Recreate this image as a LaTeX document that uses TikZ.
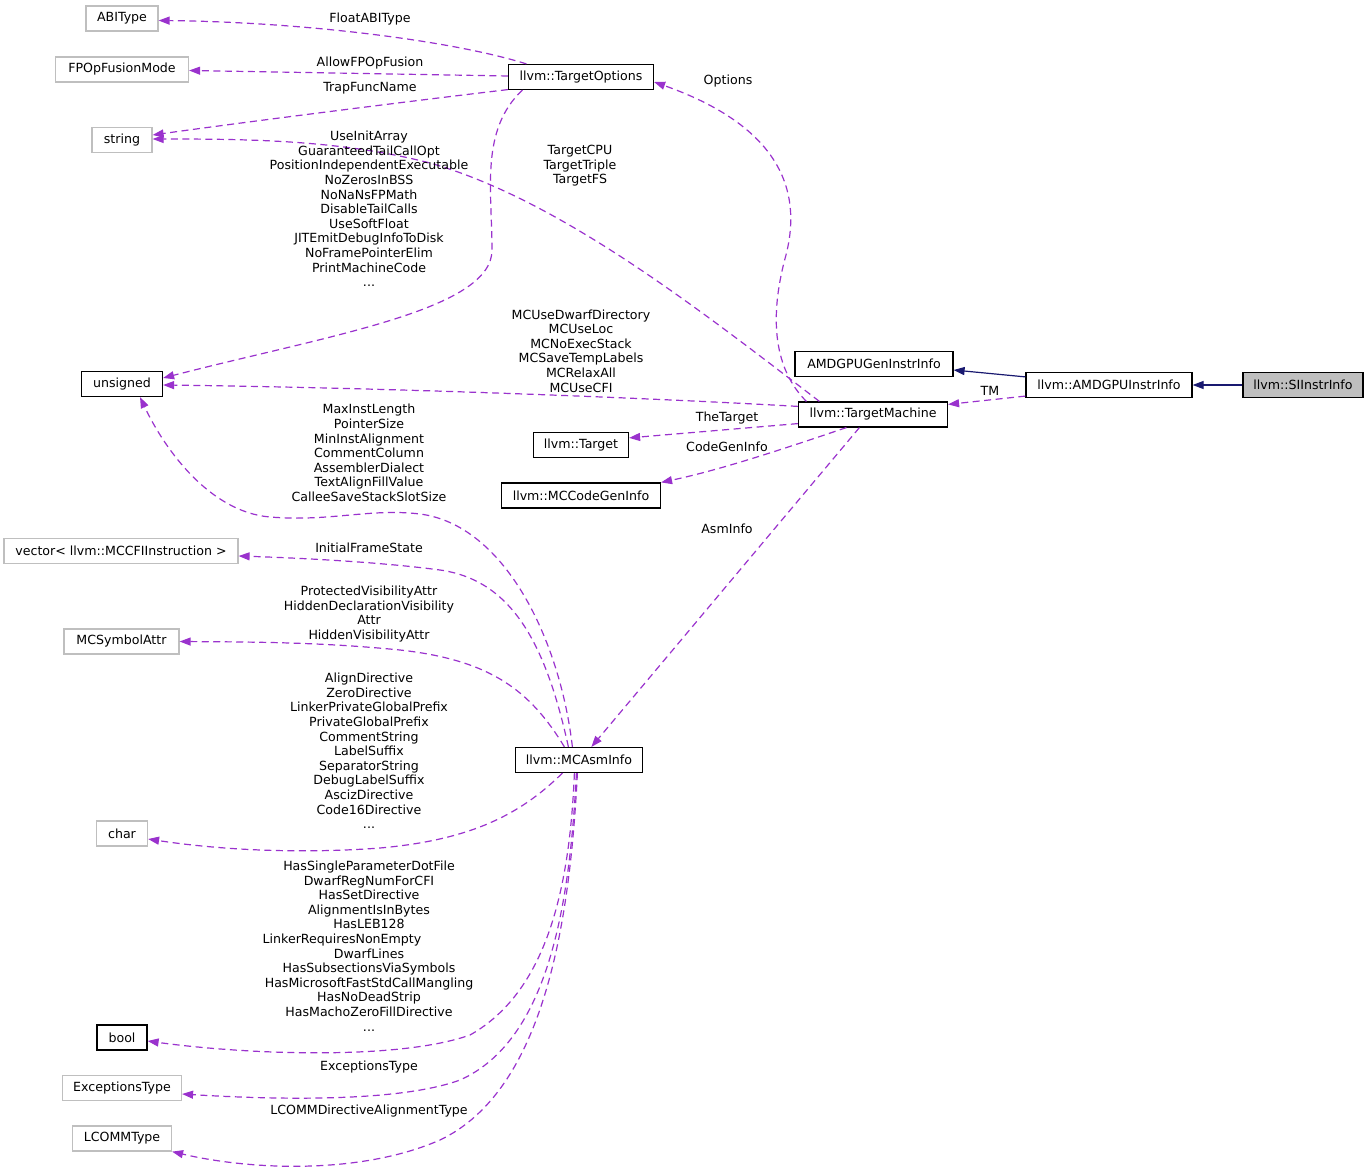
\documentclass[tikz,border=0pt]{standalone}
\usepackage{fontspec}
\setmainfont{DejaVu Sans}
\usetikzlibrary{arrows.meta}
\definecolor{lienvar}{HTML}{9A32CD}
\definecolor{lienher}{HTML}{191970}
\definecolor{grisbord}{HTML}{BFBFBF}
\tikzset{ %Styles du graphe de collaboration
    txt/.style={font=\fontsize{12.6}{14.6}\selectfont, inner sep=0pt, align=center},
    classe/.style={txt, draw=black, line width=1.2pt, minimum height=25pt, minimum width=#1},
    classe/.default=60pt,
    externe/.style={classe=#1, draw=grisbord},
    var/.style={lienvar, line width=1.2pt, dash pattern=on 7pt off 4.5pt, -{Triangle[length=11pt,width=8pt]}},
    her/.style={lienher, line width=1.2pt, -{Triangle[length=11pt,width=8pt]}}
}
\begin{document}
\begin{tikzpicture}[x=1pt,y=-1pt]
            \useasboundingbox (0,0) rectangle (1365,1174);
            % colonne de gauche
            \node[externe=72pt] (abi) at (122,18.5) {ABIType};
            \node[externe=133pt] (fpo) at (122,69.5) {FPOpFusionMode};
            \node[externe=60pt] (str) at (122,140) {string};
            \node[classe=81pt] (uns) at (122,384) {unsigned};
            \node[externe=234pt] (vec) at (121,551) {vector< llvm::MCCFIInstruction >};
            \node[externe=115pt] (sym) at (121.5,641.5) {MCSymbolAttr};
            \node[externe=51pt] (chr) at (122,833.5) {char};
            \node[classe=50pt] (boo) at (122,1037.5) {bool};
            \node[externe=119pt] (exc) at (122,1088) {ExceptionsType};
            \node[externe=99pt] (lco) at (122,1138.5) {LCOMMType};
            % milieu
            \node[classe=145pt] (topt) at (581,77) {llvm::TargetOptions};
            \node[classe=95pt] (tgt) at (581,445) {llvm::Target};
            \node[classe=159pt] (mcg) at (581,495.5) {llvm::MCCodeGenInfo};
            \node[classe=127pt] (mca) at (579,760) {llvm::MCAsmInfo};
            \node[classe=149pt] (tm) at (873,414.5) {llvm::TargetMachine};
            \node[classe=158pt] (gen) at (874,364) {AMDGPUGenInstrInfo};
            \node[classe=166pt] (amd) at (1109,385) {llvm::AMDGPUInstrInfo};
            \node[classe=120pt,fill=grisbord] (si) at (1303,385) {llvm::SIInstrInfo};
            % heritage
            \draw[her] (si.west) -- (amd.east);
            \draw[her] ([yshift=-5pt]amd.north west) -- ([yshift=-6pt]gen.east);
            % membres
            \draw[var] ([yshift=2pt]amd.south west) -- ([yshift=-3pt]tm.north east);
            \node[txt] (lTM) at (990,391) {TM};
            \draw[var] ([xshift=8.5pt]tm.north west) .. controls (775,370) and (768,320) .. (786,255) .. controls (800,200) and (790,130) .. ([yshift=-5pt]topt.east);
            \node[txt] (lOpt) at (728,81) {Options};
            \draw[var] ([xshift=21.5pt]tm.north west) .. controls (700,310) and (560,200) .. (430,163) .. controls (340,140) and (250,139) .. ([yshift=1pt]str.east);
            \node[txt] (lCPU) at (580,166) {TargetCPU\\TargetTriple\\TargetFS};
            \draw[var] ([yshift=-5pt]tm.north west) .. controls (650,398) and (400,388) .. ([yshift=-1pt]uns.east);
            \node[txt] (lMC) at (581,351) {MCUseDwarfDirectory\\MCUseLoc\\MCNoExecStack\\MCSaveTempLabels\\MCRelaxAll\\MCUseCFI};
            \draw[var] ([yshift=4pt]tm.south west) -- ([yshift=-6pt]tgt.north east);
            \node[txt] (lTgt) at (727,418) {TheTarget};
            \draw[var] ([xshift=48.5pt]tm.south west) .. controls (780,450) and (720,470) .. (mcg.north east);
            \node[txt] (lCG) at (727,447) {CodeGenInfo};
            \draw[var] ([xshift=61.5pt]tm.south west) -- ([xshift=76.5pt]mca.north west);
            \node[txt] (lAsm) at (727,529) {AsmInfo};
            \draw[var] ([xshift=18.5pt]topt.north west) .. controls (450,40) and (300,22) .. ([yshift=-2pt]abi.east);
            \node[txt] (lFl) at (370,19) {FloatABIType};
            \draw[var] ([yshift=1pt]topt.west) -- ([yshift=-1pt]fpo.east);
            \node[txt] (lFP) at (370,63) {AllowFPOpFusion};
            \draw[var] ([yshift=0.5pt]topt.south west) .. controls (420,100) and (260,120) .. ([yshift=5pt]str.east);
            \node[txt] (lTr) at (370,88) {TrapFuncName};
            \draw[var] ([xshift=14.5pt]topt.south west) .. controls (480,130) and (492,190) .. (492,250) .. controls (492,310) and (330,335) .. ([yshift=6pt]uns.east);
            \node[txt] (lUse) at (369,209) {UseInitArray\\GuaranteedTailCallOpt\\PositionIndependentExecutable\\NoZerosInBSS\\NoNaNsFPMath\\DisableTailCalls\\UseSoftFloat\\JITEmitDebugInfoToDisk\\NoFramePointerElim\\PrintMachineCode\\...};
            \draw[var] ([xshift=57.5pt]mca.north west) .. controls (560,640) and (505,525) .. (420,514) .. controls (370,508) and (330,522) .. (270,517) .. controls (210,512) and (165,450) .. ([xshift=18pt]uns.south);
            \node[txt] (lMax) at (369,453) {MaxInstLength\\PointerSize\\MinInstAlignment\\CommentColumn\\AssemblerDialect\\TextAlignFillValue\\CalleeSaveStackSlotSize};
            \draw[var] ([xshift=53.5pt]mca.north west) .. controls (545,640) and (510,580) .. (440,570) .. controls (380,562) and (300,558) .. ([yshift=-5pt]vec.east);
            \node[txt] (lIni) at (369,548) {InitialFrameState};
            \draw[var] ([xshift=49.5pt]mca.north west) .. controls (530,690) and (490,660) .. (400,650) .. controls (320,642) and (250,642) .. (sym.east);
            \node[txt] (lSym) at (369,614) {ProtectedVisibilityAttr\\HiddenDeclarationVisibility\\Attr\\HiddenVisibilityAttr};
            \draw[var] ([xshift=47.5pt]mca.south west) .. controls (520,815) and (470,840) .. (380,848) .. controls (300,854) and (220,850) .. ([yshift=-5.5pt]chr.east);
            \node[txt] (lChr) at (369,751) {AlignDirective\\ZeroDirective\\LinkerPrivateGlobalPrefix\\PrivateGlobalPrefix\\CommentString\\LabelSuffix\\SeparatorString\\DebugLabelSuffix\\AscizDirective\\Code16Directive\\...};
            \draw[var] ([xshift=59.5pt]mca.south west) .. controls (570,880) and (550,990) .. (470,1035) .. controls (400,1060) and (250,1055) .. ([yshift=-3.5pt]boo.east);
            \node[txt] (lBoo) at (369,946) {HasSingleParameterDotFile\\DwarfRegNumForCFI\\HasSetDirective\\AlignmentIsInBytes\\HasLEB128\\LinkerRequiresNonEmpty\rule{54pt}{0pt}\\DwarfLines\\HasSubsectionsViaSymbols\\HasMicrosoftFastStdCallMangling\\HasNoDeadStrip\\HasMachoZeroFillDirective\\...};
            \draw[var] ([xshift=61.5pt]mca.south west) .. controls (570,900) and (550,1040) .. (460,1080) .. controls (400,1102) and (280,1100) .. ([yshift=-6pt]exc.east);
            \node[txt] (lExc) at (369,1067) {ExceptionsType};
            \draw[var] ([xshift=62.5pt]mca.south west) .. controls (570,920) and (545,1090) .. (440,1140) .. controls (360,1175) and (250,1170) .. (lco.south east);
            \node[txt] (lLco) at (369,1111) {LCOMMDirectiveAlignmentType};
        \end{tikzpicture}
\end{document}
